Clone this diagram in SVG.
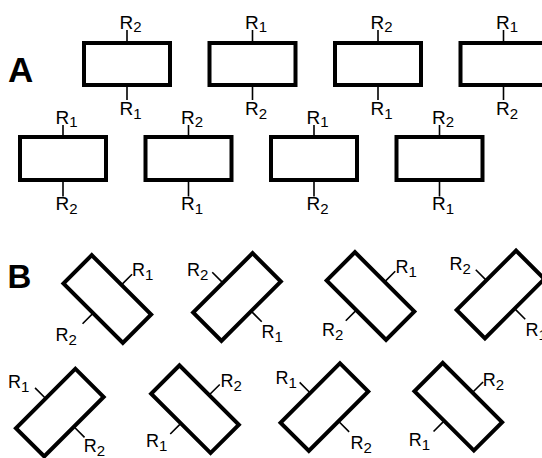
<svg xmlns="http://www.w3.org/2000/svg" width="542" height="458" viewBox="0 0 542 458">
<style>
.box{fill:none;stroke:#000;stroke-width:4;stroke-linejoin:miter}
.tk{stroke:#000;stroke-width:1.6;fill:none}
.la{font-family:"Liberation Sans",Arial,sans-serif;font-size:19px;fill:#000}
.lb{font-family:"Liberation Sans",Arial,sans-serif;font-size:18px;fill:#000}
.s{font-size:15px}
.big{font-family:"Liberation Sans",Arial,sans-serif;font-weight:bold;fill:#000}
</style>
<rect width="542" height="458" fill="#fff"/>
<text class="big" x="8" y="82" font-size="35">A</text>
<text class="big" x="7.5" y="288" font-size="33">B</text>

<!-- Panel A row 1 -->
<g id="a1" transform="translate(127,64)">
<rect class="box" x="-43" y="-21" width="86" height="42"/>
<path class="tk" d="M0,-21V-34M0,21V36"/>
<text class="la" x="-7.5" y="-35">R<tspan class="s" dy="3">2</tspan></text>
<text class="la" x="-7.5" y="51">R<tspan class="s" dy="4">1</tspan></text>
</g>
<g id="a2" transform="translate(252.5,64)">
<rect class="box" x="-43" y="-21" width="86" height="42"/>
<path class="tk" d="M0,-21V-34M0,21V36"/>
<text class="la" x="-7.5" y="-35">R<tspan class="s" dy="3">1</tspan></text>
<text class="la" x="-7.5" y="51">R<tspan class="s" dy="4">2</tspan></text>
</g>
<g id="a3" transform="translate(378,64)">
<rect class="box" x="-43" y="-21" width="86" height="42"/>
<path class="tk" d="M0,-21V-34M0,21V36"/>
<text class="la" x="-7.5" y="-35">R<tspan class="s" dy="3">2</tspan></text>
<text class="la" x="-7.5" y="51">R<tspan class="s" dy="4">1</tspan></text>
</g>
<g id="a4" transform="translate(503.5,64)">
<rect class="box" x="-43" y="-21" width="86" height="42"/>
<path class="tk" d="M0,-21V-34M0,21V36"/>
<text class="la" x="-7.5" y="-35">R<tspan class="s" dy="3">1</tspan></text>
<text class="la" x="-7.5" y="51">R<tspan class="s" dy="4">2</tspan></text>
</g>

<!-- Panel A row 2 -->
<g id="a5" transform="translate(63,158.5)">
<rect class="box" x="-43" y="-21.5" width="86" height="43"/>
<path class="tk" d="M0,-21.5V-33.5M0,21.5V38"/>
<text class="la" x="-7.5" y="-35">R<tspan class="s" dy="3">1</tspan></text>
<text class="la" x="-7.5" y="51.5">R<tspan class="s" dy="4">2</tspan></text>
</g>
<g id="a6" transform="translate(188.5,158.5)">
<rect class="box" x="-43" y="-21.5" width="86" height="43"/>
<path class="tk" d="M0,-21.5V-33.5M0,21.5V38"/>
<text class="la" x="-7.5" y="-35">R<tspan class="s" dy="3">2</tspan></text>
<text class="la" x="-7.5" y="51.5">R<tspan class="s" dy="4">1</tspan></text>
</g>
<g id="a7" transform="translate(314,158.5)">
<rect class="box" x="-43" y="-21.5" width="86" height="43"/>
<path class="tk" d="M0,-21.5V-33.5M0,21.5V38"/>
<text class="la" x="-7.5" y="-35">R<tspan class="s" dy="3">1</tspan></text>
<text class="la" x="-7.5" y="51.5">R<tspan class="s" dy="4">2</tspan></text>
</g>
<g id="a8" transform="translate(439.5,158.5)">
<rect class="box" x="-43" y="-21.5" width="86" height="43"/>
<path class="tk" d="M0,-21.5V-33.5M0,21.5V38"/>
<text class="la" x="-7.5" y="-35">R<tspan class="s" dy="3">2</tspan></text>
<text class="la" x="-7.5" y="51.5">R<tspan class="s" dy="4">1</tspan></text>
</g>

<!-- Panel B row 1 -->
<g id="b1">
<g transform="translate(107.3,299) rotate(45)">
<rect class="box" x="-42" y="-20" width="84" height="40"/>
<path class="tk" d="M0,-20V-35M0,20V35"/>
</g>
<text class="lb" x="132" y="275.5">R<tspan class="s" dy="4">1</tspan></text>
<text class="lb" x="55.5" y="340.5">R<tspan class="s" dy="4">2</tspan></text>
</g>
<g id="b2">
<g transform="translate(237,297) rotate(-45)">
<rect class="box" x="-42" y="-20" width="84" height="40"/>
<path class="tk" d="M0,-20V-35M0,20V35"/>
</g>
<text class="lb" x="187" y="275.5">R<tspan class="s" dy="4">2</tspan></text>
<text class="lb" x="261.5" y="337.5">R<tspan class="s" dy="4">1</tspan></text>
</g>
<g id="b3">
<g transform="translate(370.5,296) rotate(45)">
<rect class="box" x="-42" y="-20" width="84" height="40"/>
<path class="tk" d="M0,-20V-35M0,20V35"/>
</g>
<text class="lb" x="395.5" y="272.5">R<tspan class="s" dy="4">1</tspan></text>
<text class="lb" x="322" y="335.5">R<tspan class="s" dy="4">2</tspan></text>
</g>
<g id="b4">
<g transform="translate(500.5,294.5) rotate(-45)">
<rect class="box" x="-42" y="-20" width="84" height="40"/>
<path class="tk" d="M0,-20V-35M0,20V35"/>
</g>
<text class="lb" x="449.5" y="270">R<tspan class="s" dy="4">2</tspan></text>
<text class="lb" x="525.5" y="335.5">R<tspan class="s" dy="4">1</tspan></text>
</g>

<!-- Panel B row 2 -->
<g id="b5">
<g transform="translate(59.8,412.6) rotate(-45)">
<rect class="box" x="-42" y="-20" width="84" height="40"/>
<path class="tk" d="M0,-20V-35M0,20V35"/>
</g>
<text class="lb" x="8" y="388">R<tspan class="s" dy="4">1</tspan></text>
<text class="lb" x="83.8" y="452">R<tspan class="s" dy="4">2</tspan></text>
</g>
<g id="b6">
<g transform="translate(195,409.2) rotate(45)">
<rect class="box" x="-42" y="-20" width="84" height="40"/>
<path class="tk" d="M0,-20V-35M0,20V35"/>
</g>
<text class="lb" x="220.5" y="387">R<tspan class="s" dy="4">2</tspan></text>
<text class="lb" x="146" y="447">R<tspan class="s" dy="4">1</tspan></text>
</g>
<g id="b7">
<g transform="translate(324.4,407.1) rotate(-45)">
<rect class="box" x="-42" y="-20" width="84" height="40"/>
<path class="tk" d="M0,-20V-35M0,20V35"/>
</g>
<text class="lb" x="275.5" y="384">R<tspan class="s" dy="4">1</tspan></text>
<text class="lb" x="350.5" y="448.5">R<tspan class="s" dy="4">2</tspan></text>
</g>
<g id="b8">
<g transform="translate(458.3,406.7) rotate(45)">
<rect class="box" x="-42" y="-20" width="84" height="40"/>
<path class="tk" d="M0,-20V-35M0,20V35"/>
</g>
<text class="lb" x="482.8" y="386">R<tspan class="s" dy="4">2</tspan></text>
<text class="lb" x="408.8" y="445.5">R<tspan class="s" dy="4">1</tspan></text>
</g>
</svg>
